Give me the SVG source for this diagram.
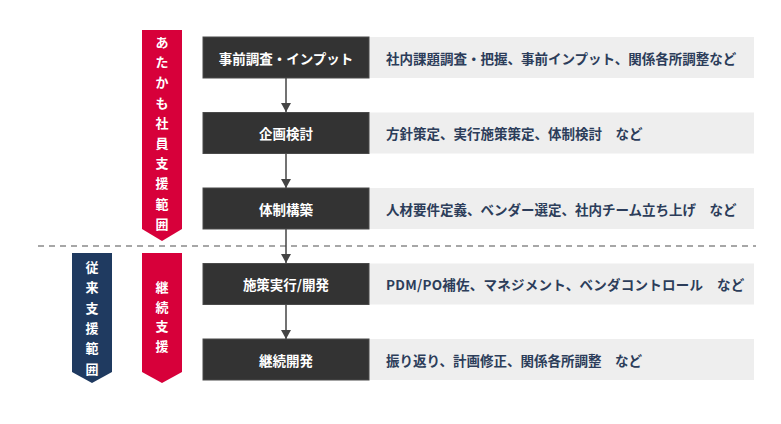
<svg xmlns="http://www.w3.org/2000/svg" width="781" height="424" viewBox="0 0 781 424">
<style>
text{font-family:"Noto Sans CJK JP","Noto Sans",sans-serif;}
.step{fill:#333333;stroke:#4a4a4a;stroke-width:1;}
.steptxt{fill:#ffffff;font-size:13.5px;font-weight:bold;text-anchor:middle;dominant-baseline:central;}
.desc{fill:#eeeeee;}
.desctxt{fill:#2c3d5a;font-size:13.5px;font-weight:bold;dominant-baseline:central;}
.bantxt{fill:#ffffff;font-size:13px;font-weight:bold;text-anchor:middle;dominant-baseline:central;}
.conn{stroke:#444444;stroke-width:1.5;fill:none;marker-end:url(#ah);}
</style>
<defs>
<marker id="ah" markerWidth="10" markerHeight="10" refX="9" refY="5" orient="auto" markerUnits="userSpaceOnUse">
<path d="M0,0 L9,5 L0,10 Z" fill="#444444"/>
</marker>
</defs>
<rect width="781" height="424" fill="#ffffff"/>
<line x1="38" y1="246" x2="756" y2="246" stroke="#8a8a8a" stroke-width="1.5" stroke-dasharray="6,5"/>
<g id="banner-atakamo">
<polygon points="142,30 182,30 182,229 162,241 142,229" fill="#d7003a"/>
<text class="bantxt"><tspan x="162" y="41">あ</tspan><tspan x="162" y="61.2">た</tspan><tspan x="162" y="81.4">か</tspan><tspan x="162" y="101.6">も</tspan><tspan x="162" y="121.8">社</tspan><tspan x="162" y="142">員</tspan><tspan x="162" y="162.2">支</tspan><tspan x="162" y="182.4">援</tspan><tspan x="162" y="202.6">範</tspan><tspan x="162" y="222.8">囲</tspan></text>
</g>
<g id="banner-juurai">
<polygon points="72,253 112,253 112,372 92,383 72,372" fill="#1f3a60"/>
<text class="bantxt"><tspan x="92" y="266">従</tspan><tspan x="92" y="286.3">来</tspan><tspan x="92" y="306.6">支</tspan><tspan x="92" y="326.9">援</tspan><tspan x="92" y="347.2">範</tspan><tspan x="92" y="367.5">囲</tspan></text>
</g>
<g id="banner-keizoku">
<polygon points="142,253 182,253 182,372 162,383 142,372" fill="#d7003a"/>
<text class="bantxt"><tspan x="162" y="285.7">継</tspan><tspan x="162" y="305.5">続</tspan><tspan x="162" y="325.3">支</tspan><tspan x="162" y="345.1">援</tspan></text>
</g>
<g id="connectors">
<line class="conn" x1="286" y1="78" x2="286" y2="112"/>
<line class="conn" x1="286" y1="154" x2="286" y2="188"/>
<line class="conn" x1="286" y1="229" x2="286" y2="263"/>
<line class="conn" x1="286" y1="305" x2="286" y2="339"/>
</g>
<g id="step1">
<rect class="desc" x="369" y="37" width="385" height="41"/>
<rect class="step" x="203" y="37" width="166" height="41"/>
<text class="steptxt" x="286" y="57.5">事前調査・インプット</text>
<text class="desctxt" x="386" y="57.5">社内課題調査・把握、事前インプット、関係各所調整など</text>
</g>
<g id="step2">
<rect class="desc" x="369" y="112.5" width="385" height="41"/>
<rect class="step" x="203" y="112.5" width="166" height="41"/>
<text class="steptxt" x="286" y="133">企画検討</text>
<text class="desctxt" x="386" y="133">方針策定、実行施策策定、体制検討　など</text>
</g>
<g id="step3">
<rect class="desc" x="369" y="188" width="385" height="41"/>
<rect class="step" x="203" y="188" width="166" height="41"/>
<text class="steptxt" x="286" y="208.5">体制構築</text>
<text class="desctxt" x="386" y="208.5">人材要件定義、ベンダー選定、社内チーム立ち上げ　など</text>
</g>
<g id="step4">
<rect class="desc" x="369" y="263.5" width="385" height="41"/>
<rect class="step" x="203" y="263.5" width="166" height="41"/>
<text class="steptxt" x="286" y="284">施策実行/開発</text>
<text class="desctxt" x="386" y="284" letter-spacing="0.25">PDM/PO補佐、マネジメント、ベンダコントロール　など</text>
</g>
<g id="step5">
<rect class="desc" x="369" y="339" width="385" height="41"/>
<rect class="step" x="203" y="339" width="166" height="41"/>
<text class="steptxt" x="286" y="359.5">継続開発</text>
<text class="desctxt" x="386" y="359.5">振り返り、計画修正、関係各所調整　など</text>
</g>
</svg>
